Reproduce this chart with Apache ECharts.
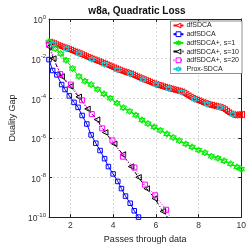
<!DOCTYPE html>
<html><head><meta charset="utf-8">
<script src="https://cdn.jsdelivr.net/npm/echarts@6/dist/echarts.min.js"></script>
<style>html,body{margin:0;padding:0;background:#fff}#c{width:249px;height:249px}</style>
</head><body><div id="c"></div>
<script>
// Duality gap values stored as log10(gap)
const dfsdcaX = [1.0,1.1,1.2,1.3,1.4,1.5,1.6,1.7,1.8,1.9,2.0,2.1,2.2,2.3,2.4,2.5,2.6,2.7,2.8,2.9,3.0,3.1,3.2,3.3,3.4,3.5,3.6,3.7,3.8,3.9,4.0,4.1,4.2,4.3,4.4,4.5,4.6,4.7,4.8,4.9,5.0,5.1,5.2,5.3,5.4,5.5,5.6,5.7,5.8,5.9,6.0,6.1,6.2,6.3,6.4,6.5,6.6,6.7,6.8,6.9,7.0,7.1,7.2,7.3,7.4,7.5,7.6,7.7,7.8,7.9,8.0,8.1,8.2,8.3,8.4,8.5,8.6,8.7,8.8,8.9,9.0,9.1,9.2,9.3,9.4,9.5,9.6,9.7,9.8,9.9,10.0];
const dfsdcaLog = [-1.17,-1.21,-1.25,-1.30,-1.34,-1.38,-1.42,-1.46,-1.50,-1.54,-1.58,-1.63,-1.67,-1.71,-1.75,-1.80,-1.85,-1.90,-1.94,-1.98,-2.03,-2.07,-2.11,-2.16,-2.20,-2.24,-2.28,-2.33,-2.37,-2.42,-2.47,-2.52,-2.56,-2.60,-2.64,-2.68,-2.71,-2.75,-2.78,-2.83,-2.88,-2.93,-2.97,-3.02,-3.06,-3.11,-3.15,-3.20,-3.24,-3.28,-3.32,-3.35,-3.38,-3.42,-3.45,-3.48,-3.51,-3.54,-3.57,-3.60,-3.63,-3.66,-3.69,-3.75,-3.82,-3.89,-3.96,-4.01,-4.06,-4.10,-4.14,-4.19,-4.23,-4.27,-4.31,-4.34,-4.36,-4.39,-4.41,-4.44,-4.47,-4.52,-4.58,-4.66,-4.74,-4.80,-4.84,-4.84,-4.83,-4.83,-4.82];
const adfsdcaX = [1.0,1.17,1.37,1.59,1.75,1.95,2.17,2.36,2.55,2.77,2.97,3.19,3.39,3.6,3.78,4.0,4.22,4.39,4.58,4.8,4.99,5.19];
const adfsdcaLog = [-2.05,-2.6,-2.82,-3.31,-3.56,-3.88,-4.21,-4.46,-4.87,-5.3,-5.85,-6.27,-6.64,-7.05,-7.45,-7.82,-8.2,-8.56,-8.94,-9.3,-9.68,-10.0];
const s1X = [1.0,1.3,1.55,1.8,2.1,2.4,2.68,2.97,3.27,3.57,3.87,4.18,4.48,4.77,5.06,5.35,5.63,5.92,6.21,6.52,6.81,7.1,7.4,7.7,8.0,8.3,8.6,8.9,9.2,9.5,9.8,10.0];
const s1Log = [-1.15,-1.5,-1.75,-2.08,-2.5,-2.9,-3.14,-3.31,-3.55,-3.78,-4.0,-4.25,-4.48,-4.66,-4.85,-5.1,-5.28,-5.45,-5.62,-5.8,-5.98,-6.14,-6.31,-6.46,-6.62,-6.75,-6.93,-7.03,-7.16,-7.31,-7.47,-7.58];
const s10X = [1.0,1.2,1.59,2.0,2.39,2.8,3.25,3.63,4.05,4.46,4.84,5.19,5.57,5.95,6.33,6.58];
const s10Log = [-1.4,-2.0,-2.9,-3.4,-3.93,-4.54,-5.08,-5.73,-6.3,-6.84,-7.45,-7.99,-8.56,-9.06,-9.71,-10.05];
const s20X = [1.0,1.52,2.03,2.54,3.0,3.49,3.97,4.46,5.0,5.49,5.97,6.48,6.7];
const s20Log = [-1.3,-2.78,-3.31,-4.1,-4.8,-5.52,-6.13,-6.95,-7.5,-8.36,-8.9,-9.63,-10.05];
const proxX = [1.2,1.8,2.4,3.0,3.6,4.2,4.8,5.4,6.0,6.6,7.2,7.8,8.4,9.0,9.6];
const proxLog = [-1.26,-1.5,-1.75,-2.03,-2.29,-2.57,-2.78,-3.06,-3.31,-3.51,-3.69,-4.05,-4.3,-4.46,-4.82];
const seriesNames = ['dfSDCA','adfSDCA','adfSDCA+, s=1','adfSDCA+, s=10','adfSDCA+, s=20','Prox-SDCA'];

function pts(xs, ls){ return xs.map((x,i)=>[x, Math.pow(10, ls[i])]); }
const hexagram = 'path://M0,-10L8.66,5L-8.66,5Z M0,10L8.66,-5L-8.66,-5Z';
const FONT = 'Liberation Sans, Arial, sans-serif';
function mk(name, data, color, symbol, size, lineType, opts){
  return Object.assign({
    name, type:'line', data, symbol, symbolSize:size, showSymbol:true,
    animation:false, clip:true,
    lineStyle:{color, width:1, type:lineType},
    itemStyle:{color:'rgba(255,255,255,0)', borderColor:color, borderWidth:1},
    emphasis:{disabled:true}
  }, opts||{});
}
const chart = echarts.init(document.getElementById('c'), null, {renderer:'canvas'});
chart.setOption({
  backgroundColor:'#fff',
  animation:false,
  title:{text:'w8a, Quadratic Loss', left:132, top:1, textAlign:'center',
    textStyle:{fontSize:10, fontWeight:'bold', color:'#111', fontFamily:FONT}},
  grid:{left:38, right:6, top:19, bottom:26},
  legend:{
    data:seriesNames, orient:'vertical', right:7, top:21,
    backgroundColor:'#fff', borderColor:'#444', borderWidth:0.6,
    padding:[1,3,1,2], itemGap:1.7, itemWidth:10, itemHeight:6,
    itemStyle:{color:'#fff', borderColor:'inherit', borderWidth:1},
    textStyle:{fontSize:7, color:'#222', fontFamily:FONT, padding:[0,0,0,-2]}
  },
  xAxis:[{
    type:'value', min:1, max:10,
    name:'Passes through data', nameLocation:'middle', nameGap:13,
    nameTextStyle:{fontSize:9, color:'#222', fontFamily:FONT},
    axisLine:{lineStyle:{color:'#222', width:1}},
    axisTick:{inside:true, length:3, lineStyle:{color:'#222'}},
    axisLabel:{showMinLabel:false, fontSize:8.5, color:'#333', margin:4, fontFamily:FONT},
    splitLine:{show:true, lineStyle:{color:'#ccc', type:[2,2], width:0.8}}
  },{
    type:'value', min:1, max:10, position:'top',
    axisLine:{lineStyle:{color:'#222', width:1}},
    axisTick:{inside:true, length:3, lineStyle:{color:'#222'}},
    axisLabel:{show:false}, splitLine:{show:false}
  }],
  yAxis:[{
    type:'log', logBase:10, min:1e-10, max:1, interval:2,
    name:'Duality Gap', nameLocation:'middle', nameGap:27,
    nameTextStyle:{fontSize:9, color:'#222', fontFamily:FONT},
    axisLine:{show:true, lineStyle:{color:'#222', width:1}},
    axisTick:{show:true, inside:true, length:3, lineStyle:{color:'#222'}},
    minorTick:{show:false},
    axisLabel:{margin:3, color:'#333', fontFamily:FONT,
      formatter:function(v){ const e=Math.round(Math.log10(v)); return '{b|10}{s|'+e+'}'; },
      rich:{b:{fontSize:8.5, color:'#333', fontFamily:FONT, padding:[4,0,0,0]}, s:{fontSize:6, color:'#333', fontFamily:FONT, padding:[0,0,4,0]}}},
    splitLine:{show:true, lineStyle:{color:'#ccc', type:[2,2], width:0.8}}
  },{
    type:'log', logBase:10, min:1e-10, max:1, interval:2, position:'right',
    axisLine:{show:true, lineStyle:{color:'#222', width:1}},
    axisTick:{show:true, inside:true, length:3, lineStyle:{color:'#222'}},
    axisLabel:{show:false}, splitLine:{show:false}
  }],
  series:[
    mk(seriesNames[0], pts(dfsdcaX, dfsdcaLog), '#ff0000', 'triangle', 6.5, 'solid', {symbolRotate:90}),
    mk(seriesNames[1], pts(adfsdcaX, adfsdcaLog), '#0000ff', 'rect', 4.5, 'solid'),
    mk(seriesNames[2], pts(s1X, s1Log), '#00ee00', hexagram, 6.5, 'solid'),
    mk(seriesNames[3], pts(s10X, s10Log), '#000000', 'triangle', 5.5, [4,2,1,2], {symbolRotate:90}),
    mk(seriesNames[4], pts(s20X, s20Log), '#ff00ff', 'rect', 5, [1,1.5]),
    mk(seriesNames[5], pts(proxX, proxLog), '#00e5ee', hexagram, 6.5, [3,2],
      {itemStyle:{color:'#33ddee', borderColor:'#00ccdd', borderWidth:0.8}})
  ]
});
</script></body></html>
